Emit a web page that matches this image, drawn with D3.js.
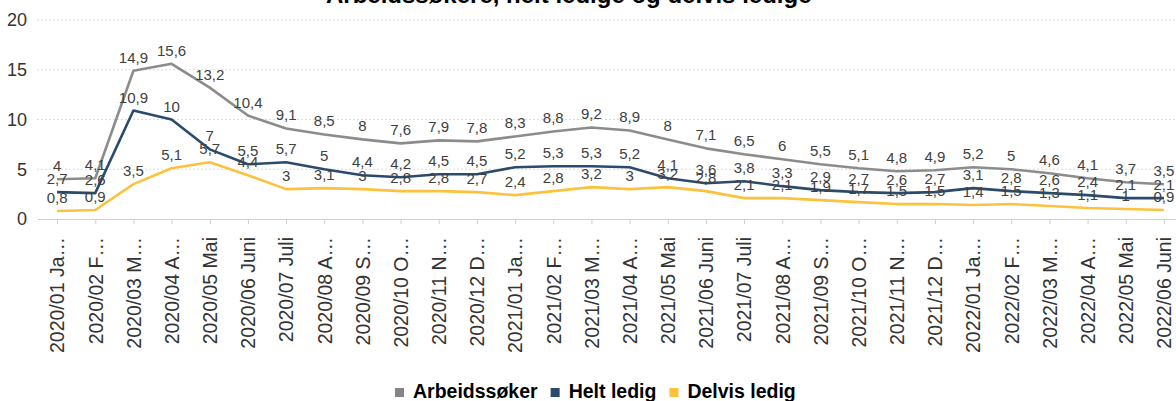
<!DOCTYPE html>
<html><head><meta charset="utf-8">
<script src="https://cdn.jsdelivr.net/npm/d3@7"></script>
<style>body{margin:0;background:#fff;overflow:hidden}svg{display:block}</style>
</head><body><svg id="c" width="1176" height="401"></svg>
<script>
const categories = ["2020/01 Ja…","2020/02 F…","2020/03 M…","2020/04 A…","2020/05 Mai","2020/06 Juni","2020/07 Juli","2020/08 A…","2020/09 S…","2020/10 O…","2020/11 N…","2020/12 D…","2021/01 Ja…","2021/02 F…","2021/03 M…","2021/04 A…","2021/05 Mai","2021/06 Juni","2021/07 Juli","2021/08 A…","2021/09 S…","2021/10 O…","2021/11 N…","2021/12 D…","2022/01 Ja…","2022/02 F…","2022/03 M…","2022/04 A…","2022/05 Mai","2022/06 Juni"];
const arbeidssoker = [4,4.1,14.9,15.6,13.2,10.4,9.1,8.5,8,7.6,7.9,7.8,8.3,8.8,9.2,8.9,8,7.1,6.5,6,5.5,5.1,4.8,4.9,5.2,5,4.6,4.1,3.7,3.5];
const heltLedig = [2.7,2.6,10.9,10,7,5.5,5.7,5,4.4,4.2,4.5,4.5,5.2,5.3,5.3,5.2,4.1,3.6,3.8,3.3,2.9,2.7,2.6,2.7,3.1,2.8,2.6,2.4,2.1,2.1];
const delvisLedig = [0.8,0.9,3.5,5.1,5.7,4.4,3,3.1,3,2.8,2.8,2.7,2.4,2.8,3.2,3,3.2,2.8,2.1,2.1,1.9,1.7,1.5,1.5,1.4,1.5,1.3,1.1,1,0.9];
const yTicks = [0,5,10,15,20];
const seriesNames = ["Arbeidssøker","Helt ledig","Delvis ledig"];
const titleText = "Arbeidssøkere, helt ledige og delvis ledige";

const colors = ["#8c8c8c","#2b4b6c","#fcc23e"];
const legendColors = ["#858585","#2b4b6c","#fcc23e"];
const seriesData = [arbeidssoker, heltLedig, delvisLedig];

const svg = d3.select("#c");
const font = "'Liberation Sans', Arial, sans-serif";
const x = d3.scalePoint().domain(categories).range([38, 1183]).padding(0.5);
const y = d3.scaleLinear().domain([0, 20]).range([219, 20]);

// title (mostly cut off at top)
svg.append("text").attr("x", 326).attr("y", 3)
  .attr("font-family", font).attr("font-weight", "bold").attr("font-size", 24)
  .attr("fill", "#000").text(titleText);

// gridlines
svg.append("g").selectAll("line").data(yTicks.filter(d => d > 0)).join("line")
  .attr("x1", 37).attr("x2", 1176).attr("y1", d => y(d)).attr("y2", d => y(d))
  .attr("stroke", "#dcdcdc").attr("stroke-width", 1).attr("stroke-dasharray", "2,2");

// y axis labels
const yAxis = svg.append("g").attr("transform", "translate(36,0)")
  .call(d3.axisLeft(y).tickValues(yTicks).tickSize(0).tickPadding(9).tickFormat(d3.format("d")));
yAxis.select(".domain").remove();
yAxis.selectAll("text").attr("font-family", font).attr("font-size", 18).attr("fill", "#333");

// x axis
const xAxis = svg.append("g").attr("transform", `translate(0,${y(0)})`)
  .call(d3.axisBottom(x).tickSize(5).tickPadding(0));
xAxis.select(".domain").attr("d", "M38,0.5H1176").attr("stroke", "#cfcfcf");
xAxis.selectAll(".tick line").attr("stroke", "#cfcfcf");
xAxis.selectAll("text")
  .attr("font-family", font).attr("font-size", 19.5).attr("fill", "#333")
  .attr("text-anchor", "end").attr("dy", "0.35em")
  .attr("transform", "translate(0,18) rotate(-90)").attr("x", 0).attr("y", 0);

// lines
const line = d3.line().x((d, i) => x(categories[i])).y(d => y(d));
svg.append("g").selectAll("path").data(seriesData).join("path")
  .attr("d", d => line(d)).attr("fill", "none")
  .attr("stroke", (d, i) => colors[i]).attr("stroke-width", 2.6)
  .attr("stroke-linejoin", "round");

// data labels
const fmt = v => String(v).replace(".", ",");
seriesData.forEach((s, si) => {
  svg.append("g").selectAll("text").data(s).join("text")
    .attr("x", (d, i) => x(categories[i])).attr("y", d => y(d) - 8)
    .attr("text-anchor", "middle").attr("font-family", font).attr("font-size", 15)
    .attr("fill", "#404040").text(d => fmt(d));
});

// legend
const lg = svg.append("g");
let lx = 395;
seriesNames.forEach((n, i) => {
  lg.append("rect").attr("x", lx).attr("y", 388).attr("width", 9).attr("height", 9)
    .attr("fill", legendColors[i]);
  const t = lg.append("text").attr("x", lx + 18).attr("y", 398)
    .attr("font-family", font).attr("font-weight", "bold").attr("font-size", 19.5)
    .attr("fill", "#000").text(n);
  lx += 18 + t.node().getComputedTextLength() + 13;
});
</script></body></html>
